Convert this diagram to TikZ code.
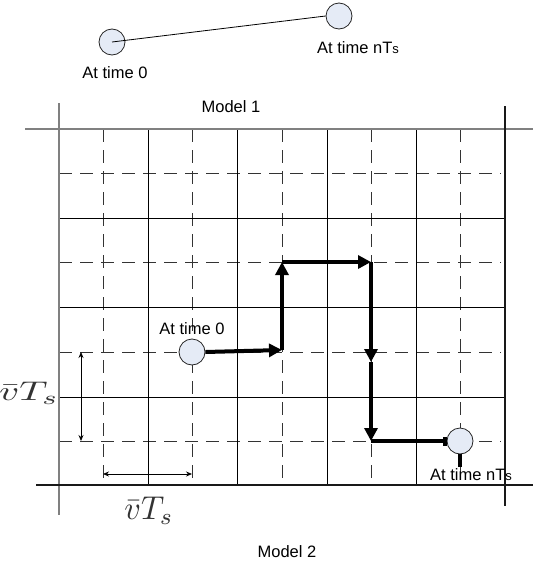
\documentclass[tikz,border=0pt]{standalone}
\usepackage{fontspec}
\setmainfont{Liberation Sans}
\usetikzlibrary{arrows.meta}
\definecolor{cfill}{HTML}{E5EBF6}
\definecolor{lgray}{HTML}{808080}
\begin{document}
\begin{tikzpicture}[x=1pt,y=-1pt,
  lbl/.style={font=\fontsize{16.5}{18}\selectfont, inner sep=0pt},
  dot/.style={circle, draw=black!85, fill=cfill, minimum size=26pt, inner sep=0pt, line width=0.8pt},
  gsolid/.style={line width=0.9pt, black},
  gdash/.style={line width=0.9pt, black!80, dash pattern=on 13pt off 8pt},
  outergray/.style={line width=1.4pt, lgray},
  outerdark/.style={line width=1.2pt, black!90},
  mv/.style={line width=4pt, -{Triangle[length=13pt,width=13pt]}},
  dim/.style={line width=0.8pt, {Stealth[length=6pt,width=5pt]}-{Stealth[length=6pt,width=5pt]}},
  mathlbl/.style={text=black!80, inner sep=0pt}
]
\useasboundingbox (0,0) rectangle (533,565);
% grid: dashed lines
\foreach \x in {103,192,282,371,460} \draw[gdash] (\x,129) -- (\x,485);
\foreach \y in {173,262,352,441} \draw[gdash] (59,\y) -- (501,\y);
% grid: solid lines
\foreach \x in {148,237,327,416} \draw[gsolid] (\x,129) -- (\x,485);
\foreach \y in {218,307,397} \draw[gsolid] (59,\y) -- (505,\y);
% outer lines
\draw[outergray] (25,129) -- (533,129);
\draw[outergray] (59,103) -- (59,515);
\draw[outerdark] (505,106) -- (505,506);
\draw[outerdark] (36,485) -- (533,485);

% top: model 1
\node[dot] (t0) at (112,42) {};
\node[dot] (tN) at (339,16) {};
\draw[line width=0.8pt] (t0.center) -- (tN.west);
\node[lbl] (t0l) at (115,73) {At time 0};
\node[lbl] (tNl) at (358,48) {At time nT{\fontsize{13}{14}\selectfont s}};
\node[lbl] (m1) at (231,107) {Model 1};
\node[lbl] (m2) at (287,552) {Model 2};

% model 2 path
\node[dot] (c0) at (192,352) {};
\node[dot] (cN) at (460,441) {};
\node[lbl] (c0l) at (192,329) {At time 0};
\coordinate (p1) at (282,350);
\coordinate (p2) at (282,262);
\coordinate (p3) at (371,262);
\coordinate (p4) at (371,362);
\coordinate (p5) at (371,441);
\coordinate (st) at (460,467);
\draw[mv] (c0.east) -- (p1);
\draw[mv] (p1) -- (p2);
\draw[mv] (p2) -- (p3);
\draw[mv] (p3) -- (p4);
\draw[mv] (p4) -- (p5);
\draw[line width=4pt, -{Bar[width=9pt]}] (p5) -- (cN.west);
\draw[line width=4pt] (cN.south) -- (st);
\node[lbl] (cNl) at (471,475) {At time nT{\fontsize{13}{14}\selectfont s}};

% dimension arrows
\coordinate (da) at (81,352);
\coordinate (db) at (81,441);
\draw[dim] (da) -- (db);
\coordinate (dc) at (103,474);
\coordinate (dd) at (192,474);
\draw[dim] (dc) -- (dd);
\node[mathlbl] (vl) at (29,393) {\scalebox{3.9}[2.7]{$\bar v T_s$}};
\node[mathlbl] (vb) at (149,511) {\scalebox{3.2}[3.3]{$\bar v T_s$}};
\end{tikzpicture}
\end{document}
